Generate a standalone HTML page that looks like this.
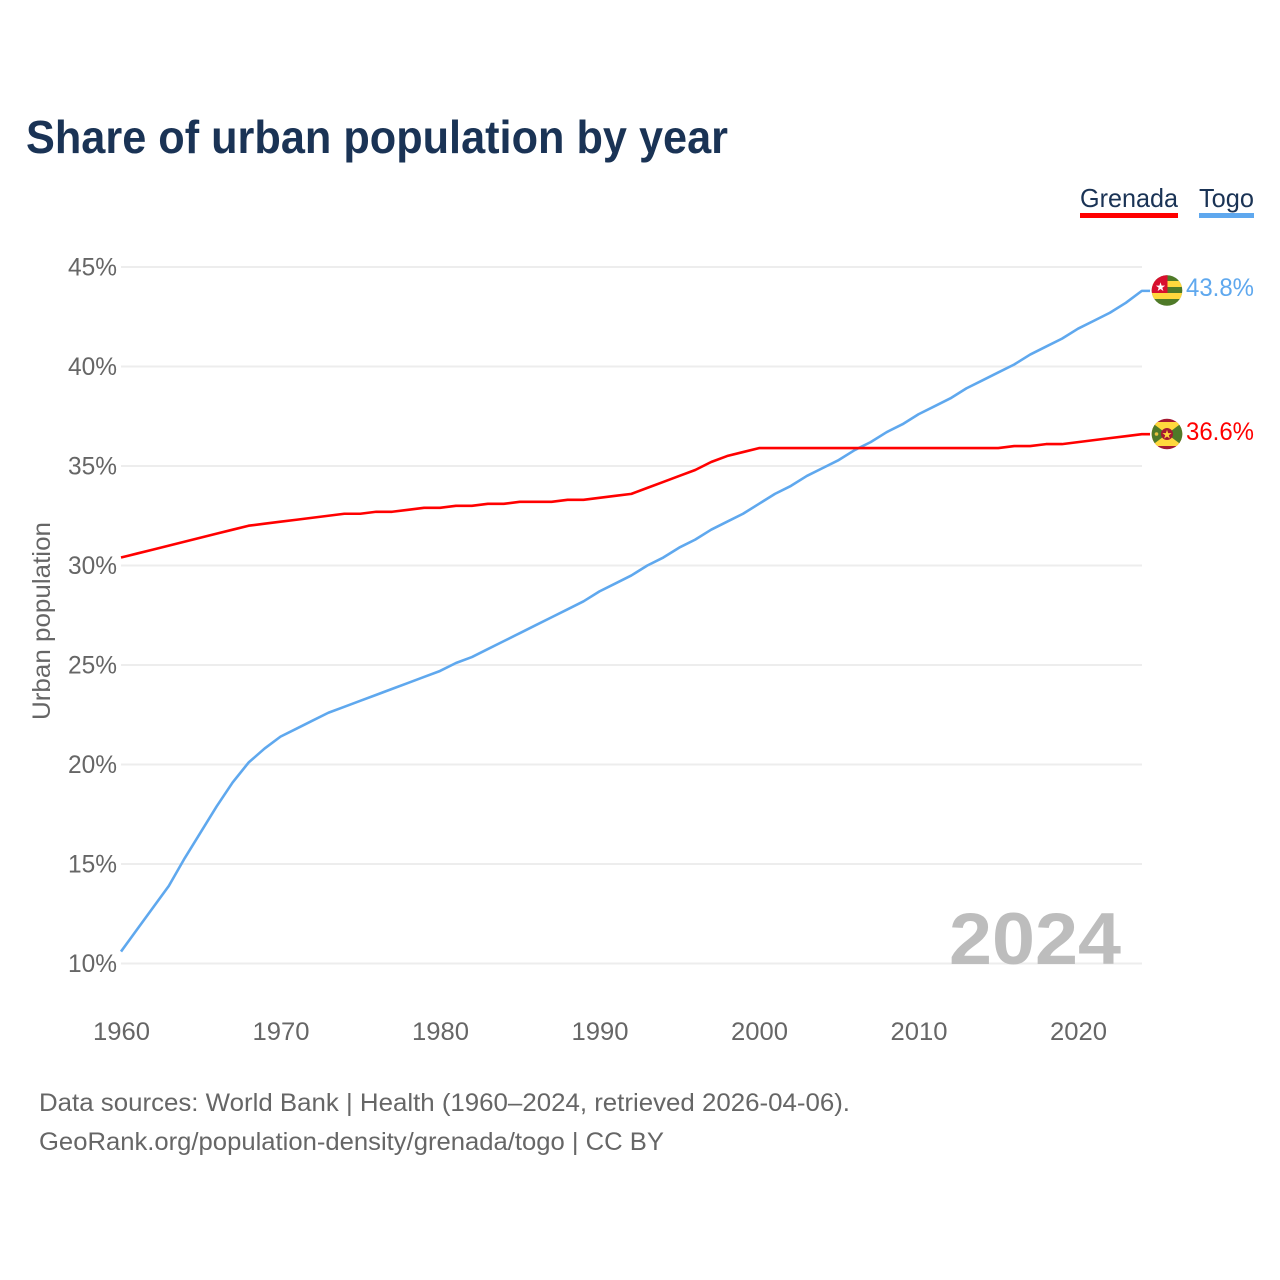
<!DOCTYPE html>
<html lang="en">
<head>
<meta charset="utf-8">
<title>Share of urban population by year</title>
<style>
html,body{margin:0;padding:0;background:#fff;width:1280px;height:1280px;overflow:hidden}
svg{display:block;font-family:"Liberation Sans",sans-serif}
</style>
</head>
<body>
<svg id="chart" width="1280" height="1280" viewBox="0 0 1280 1280">
  <defs>
    <clipPath id="togo-clip"><circle cx="1167" cy="290.5" r="15.3"></circle></clipPath>
    <clipPath id="grenada-clip"><circle cx="1167" cy="434" r="15.3"></circle></clipPath>
  </defs>
  <text x="26" y="153" font-size="46" font-weight="700" fill="#1a3355" textLength="702" lengthAdjust="spacingAndGlyphs">Share of urban population by year</text>

  <g>
    <g>
      <text x="1080" y="207" font-size="26" fill="#1a3355" textLength="98" lengthAdjust="spacingAndGlyphs">Grenada</text>
      <rect x="1080" y="213" width="98" height="5" fill="#ff0000"></rect>
    </g>
    <g>
      <text x="1199" y="207" font-size="26" fill="#1a3355" textLength="55" lengthAdjust="spacingAndGlyphs">Togo</text>
      <rect x="1199" y="213" width="55" height="5" fill="#5fa8ee"></rect>
    </g>
  </g>

  <g id="grid"></g>
  <g id="y-ticks"></g>
  <g id="x-ticks"></g>

  <text transform="translate(50 621) rotate(-90)" text-anchor="middle" font-size="25" fill="#666" textLength="198" lengthAdjust="spacingAndGlyphs">Urban population</text>

  <text x="1121" y="964" text-anchor="end" font-size="73" font-weight="700" fill="#bdbdbd" textLength="172" lengthAdjust="spacingAndGlyphs">2024</text>

  <g id="series"></g>

  <g clip-path="url(#togo-clip)">
    <rect x="1151" y="275" width="32" height="31" fill="#4f7a28"></rect>
    <rect x="1151" y="281" width="32" height="6" fill="#ffd83d"></rect>
    <rect x="1151" y="293" width="32" height="6" fill="#ffd83d"></rect>
    <rect x="1151" y="275" width="16.5" height="18" fill="#d80f2e"></rect>
    <text x="1160.5" y="291" text-anchor="middle" font-size="12" fill="#fff">★</text>
  </g>

  <g clip-path="url(#grenada-clip)">
    <rect x="1151" y="418" width="32" height="32" fill="#a51931"></rect>
    <rect x="1151" y="422" width="32" height="24" fill="#ffd83d"></rect>
    <polygon points="1151,422 1167,434 1151,446" fill="#4f7a28"></polygon>
    <polygon points="1183,422 1167,434 1183,446" fill="#4f7a28"></polygon>
    <circle cx="1167" cy="434" r="6" fill="#a51931"></circle>
    <text x="1167" y="438.5" text-anchor="middle" font-size="12" fill="#ffd83d">★</text>
    <circle cx="1156.5" cy="434" r="1.8" fill="#e8c040"></circle>
  </g>

  <text x="1186" y="296" font-size="25" fill="#5fa8ee" textLength="68" lengthAdjust="spacingAndGlyphs">43.8%</text>
  <text x="1186" y="440" font-size="25" fill="#ff0000" textLength="68" lengthAdjust="spacingAndGlyphs">36.6%</text>

  <text x="39" y="1111" font-size="25" fill="#666" textLength="811" lengthAdjust="spacingAndGlyphs">Data sources: World Bank | Health (1960–2024, retrieved 2026-04-06).</text>
  <text x="39" y="1150" font-size="25" fill="#666" textLength="625" lengthAdjust="spacingAndGlyphs">GeoRank.org/population-density/grenada/togo | CC BY</text>
</svg>
<script>
const years = [1960,1961,1962,1963,1964,1965,1966,1967,1968,1969,1970,1971,1972,1973,1974,1975,1976,1977,1978,1979,1980,1981,1982,1983,1984,1985,1986,1987,1988,1989,1990,1991,1992,1993,1994,1995,1996,1997,1998,1999,2000,2001,2002,2003,2004,2005,2006,2007,2008,2009,2010,2011,2012,2013,2014,2015,2016,2017,2018,2019,2020,2021,2022,2023,2024];
const grenada = [30.4,30.6,30.8,31.0,31.2,31.4,31.6,31.8,32.0,32.1,32.2,32.3,32.4,32.5,32.6,32.6,32.7,32.7,32.8,32.9,32.9,33.0,33.0,33.1,33.1,33.2,33.2,33.2,33.3,33.3,33.4,33.5,33.6,33.9,34.2,34.5,34.8,35.2,35.5,35.7,35.9,35.9,35.9,35.9,35.9,35.9,35.9,35.9,35.9,35.9,35.9,35.9,35.9,35.9,35.9,35.9,36.0,36.0,36.1,36.1,36.2,36.3,36.4,36.5,36.6];
const togo = [10.6,11.7,12.8,13.9,15.3,16.6,17.9,19.1,20.1,20.8,21.4,21.8,22.2,22.6,22.9,23.2,23.5,23.8,24.1,24.4,24.7,25.1,25.4,25.8,26.2,26.6,27.0,27.4,27.8,28.2,28.7,29.1,29.5,30.0,30.4,30.9,31.3,31.8,32.2,32.6,33.1,33.6,34.0,34.5,34.9,35.3,35.8,36.2,36.7,37.1,37.6,38.0,38.4,38.9,39.3,39.7,40.1,40.6,41.0,41.4,41.9,42.3,42.7,43.2,43.8];
const yTickValues = [10,15,20,25,30,35,40,45];
const xTickValues = [1960,1970,1980,1990,2000,2010,2020];

const NS = 'http://www.w3.org/2000/svg';
function xScale(year) { return 121 + (year - 1960) * 15.95; }
function yScale(value) { return 963.5 - (value - 10) * 19.9; }
function make(tag, attrs, parent) {
  const el = document.createElementNS(NS, tag);
  for (const k in attrs) el.setAttribute(k, attrs[k]);
  parent.appendChild(el);
  return el;
}

const grid = document.getElementById('grid');
const yGroup = document.getElementById('y-ticks');
yTickValues.forEach(function (v) {
  const line = make('line', {x1: 121, x2: 1142, y1: yScale(v), y2: yScale(v), stroke: '#ededed', 'stroke-width': 2}, grid);
  
  
  const label = make('text', {x: 117, y: yScale(v) + 8.5, 'text-anchor': 'end', 'font-size': 25, fill: '#666', textLength: 49, lengthAdjust: 'spacingAndGlyphs'}, yGroup);
  label.textContent = v + '%';
  
  
});

const xGroup = document.getElementById('x-ticks');
xTickValues.forEach(function (y) {
  const label = make('text', {x: xScale(y) + 0.5, y: 1040, 'text-anchor': 'middle', 'font-size': 25, fill: '#666', textLength: 57, lengthAdjust: 'spacingAndGlyphs'}, xGroup);
  label.textContent = y;
  
  
});

const seriesGroup = document.getElementById('series');
function drawSeries(values, color, name) {
  let d = values.map(function (v, i) {
    return (i ? 'L' : 'M') + xScale(years[i]).toFixed(2) + ' ' + yScale(v).toFixed(2);
  }).join(' ');
  d += ' H 1150';
  const path = make('path', {d: d, fill: 'none', stroke: color, 'stroke-width': 2.6, 'stroke-linejoin': 'round'}, seriesGroup);
  
  
}
drawSeries(togo, '#5fa8ee', 'line-togo');
drawSeries(grenada, '#ff0000', 'line-grenada');
</script>
</body>
</html>
